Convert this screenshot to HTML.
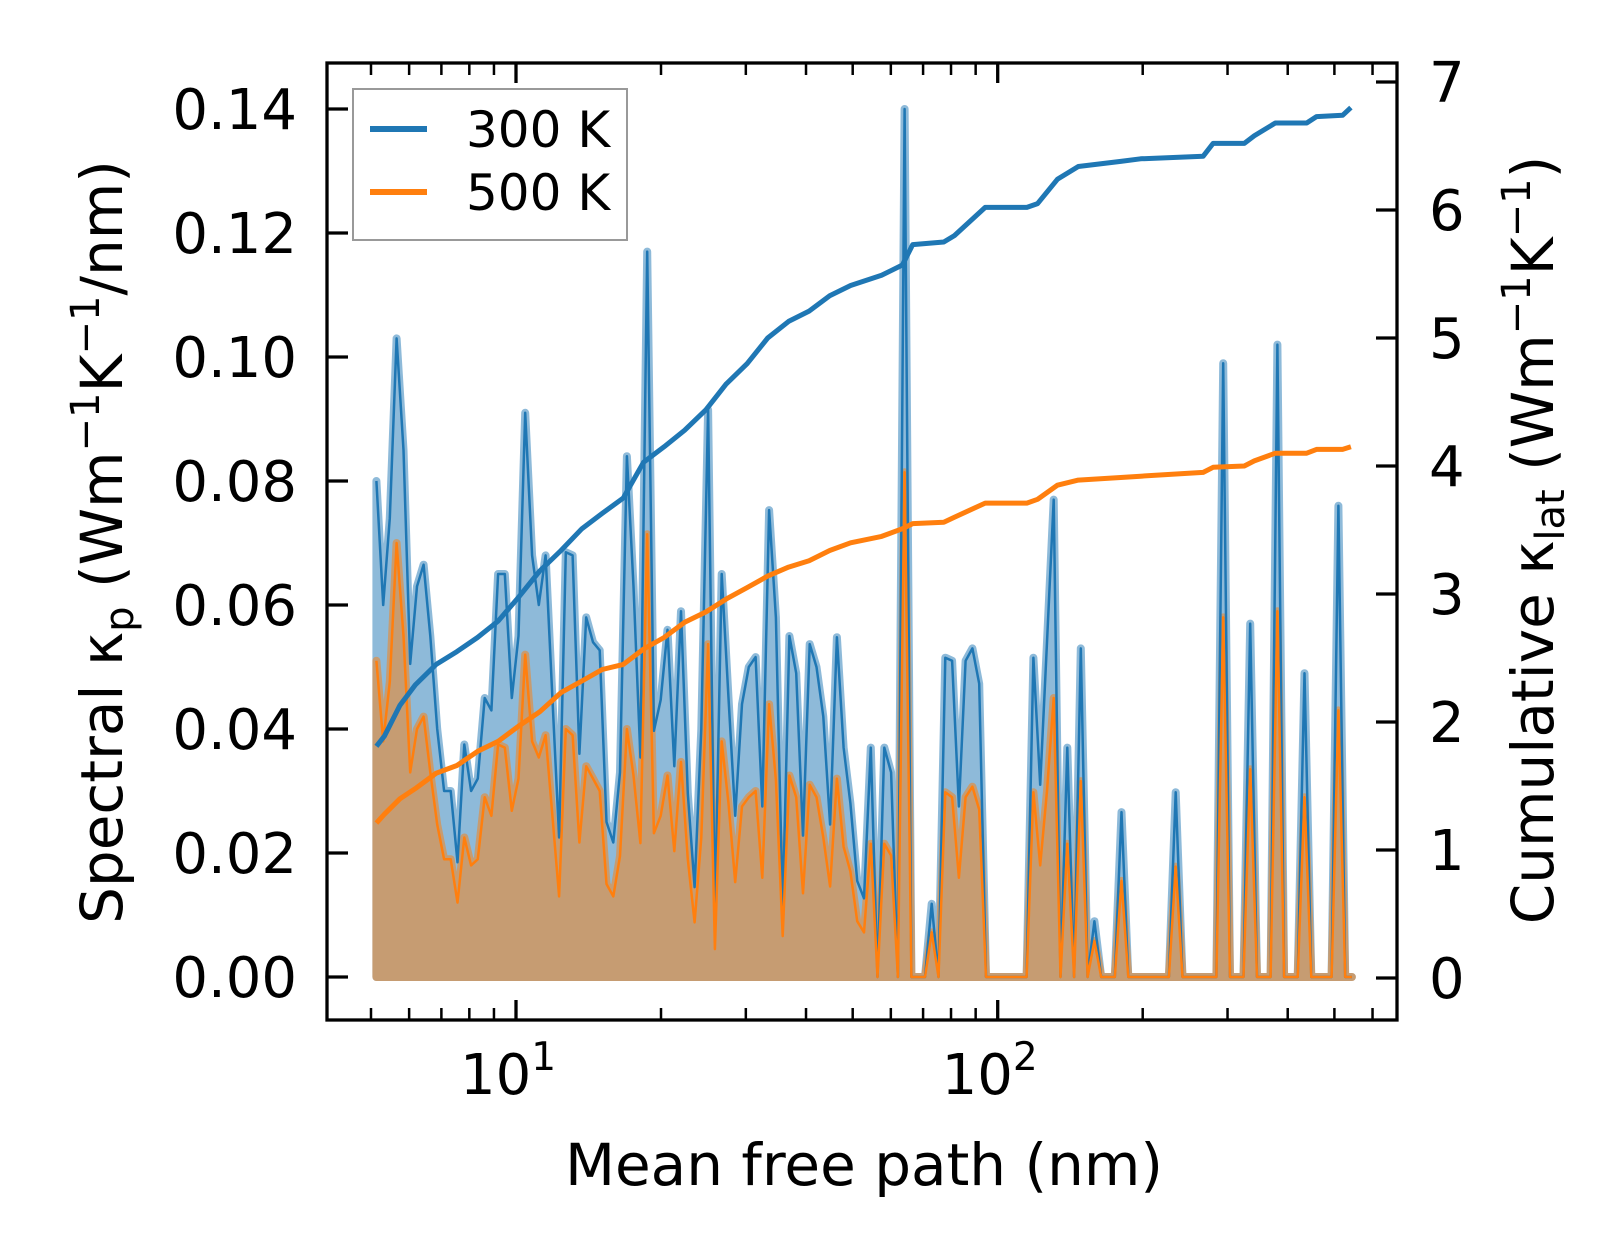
<!DOCTYPE html>
<html><head><meta charset="utf-8"><style>
html,body{margin:0;padding:0;background:#fff;}
svg{display:block;font-family:"DejaVu Sans","Liberation Sans",sans-serif;}
</style></head><body>
<svg id="chart" width="1623" height="1258" viewBox="0 0 1623 1258" xmlns="http://www.w3.org/2000/svg">
<rect width="1623" height="1258" fill="#fff"/>
<g id="plot"></g>
<g id="axes"></g>
<g>
  <rect x="353" y="89" width="274" height="151" fill="#fff" fill-opacity="0.8" stroke="#999" stroke-width="2"/>
  <line x1="370" y1="129" x2="427" y2="129" stroke="#1f77b4" stroke-width="6"/>
  <text x="466" y="147" font-size="50">300 K</text>
  <line x1="370" y1="192" x2="427" y2="192" stroke="#ff7f0e" stroke-width="6"/>
  <text x="466" y="210" font-size="50">500 K</text>
</g>
<text x="864" y="1185" font-size="58" text-anchor="middle">Mean free path (nm)</text>
<text transform="translate(122,542) rotate(-90)" font-size="58" text-anchor="middle">Spectral κ<tspan font-size="40" dy="11">p</tspan><tspan dy="-11"> (Wm</tspan><tspan font-size="40" dy="-23">−1</tspan><tspan dy="23">K</tspan><tspan font-size="40" dy="-23">−1</tspan><tspan dy="23">/nm)</tspan></text>
<text transform="translate(1553,540) rotate(-90)" font-size="58" text-anchor="middle">Cumulative κ<tspan font-size="40" dy="11">lat</tspan><tspan dy="-11"> (Wm</tspan><tspan font-size="40" dy="-23">−1</tspan><tspan dy="23">K</tspan><tspan font-size="40" dy="-23">−1</tspan><tspan dy="23">)</tspan></text>
</svg>
<script>
// ---- data ----
const mfp = [5.13,5.30,5.47,5.65,5.84,6.03,6.23,6.43,6.64,6.86,7.09,7.32,7.56,7.81,8.07,8.33,8.61,8.89,9.18,9.48,9.80,10.12,10.45,10.80,11.15,11.52,11.90,12.29,12.69,13.11,13.54,13.99,14.45,14.92,15.41,15.92,16.44,16.99,17.54,18.12,18.72,19.33,19.97,20.63,21.31,22.01,22.73,23.48,24.25,25.05,25.88,26.73,27.61,28.52,29.46,30.43,31.43,32.46,33.53,34.64,35.78,36.95,38.17,39.43,40.72,42.06,43.45,44.88,46.36,47.88,49.46,51.09,52.77,54.51,56.30,58.16,60.07,62.05,64.09,66.20,68.38,70.64,72.96,75.36,77.85,80.41,83.06,85.79,88.62,91.53,94.55,97.66,100.9,104.2,107.6,111.2,114.8,118.6,122.5,126.6,130.7,135.0,139.5,144.1,148.8,153.7,158.8,164.0,169.4,175.0,180.7,186.7,192.8,199.2,205.7,212.5,219.5,226.7,234.2,241.9,249.9,258.1,266.6,275.4,284.4,293.8,303.5,313.5,323.8,334.4,345.4,356.8,368.6,380.7,393.2,406.2,419.6,433.4,447.7,462.4,477.6,493.4,509.6,526.4,543.7];
const spec300 = [0.080,0.060,0.074,0.103,0.085,0.0505,0.063,0.0665,0.055,0.040,
0.030,0.030,0.0185,0.0375,0.030,0.032,0.045,0.043,0.065,0.065,
0.045,0.055,0.091,0.068,0.060,0.068,0.045,0.0225,0.0685,0.068,
0.036,0.058,0.054,0.0527,0.025,0.0217,0.033,0.084,0.063,0.0354,
0.117,0.0397,0.0447,0.056,0.034,0.059,0.0296,0.0145,0.040,0.0915,
0.010,0.065,0.045,0.026,0.044,0.050,0.0516,0.0275,0.0753,0.058,
0.011,0.055,0.049,0.0228,0.0537,0.050,0.042,0.0246,0.0548,0.037,
0.028,0.0155,0.0127,0.037,0,0.037,0.033,0,0.140,0,
0,0,0.0118,0,0.0515,0.051,0.0275,0.051,0.053,0.0473,
0,0,0,0,0,0,0,0.0515,0.031,0.054,
0.077,0,0.037,0,0.053,0,0.009,0,0,0,
0.0266,0,0,0,0,0,0,0,0.0298,0,
0,0,0,0,0,0.099,0,0,0,0.057,
0,0,0,0.102,0,0,0,0.049,0,0,
0,0,0.076,0,0];
const spec500 = [0.051,0.038,0.0476,0.070,0.055,0.033,0.040,0.042,0.033,0.0246,
0.019,0.019,0.012,0.0225,0.018,0.019,0.029,0.026,0.0375,0.037,
0.0268,0.032,0.052,0.038,0.0354,0.039,0.026,0.013,0.040,0.039,
0.0217,0.034,0.032,0.030,0.015,0.013,0.0195,0.040,0.0325,0.0216,
0.0714,0.0232,0.026,0.0325,0.0203,0.0347,0.019,0.0088,0.0225,0.0537,
0.0045,0.038,0.028,0.0153,0.0275,0.029,0.030,0.016,0.044,0.0318,
0.0066,0.0325,0.029,0.0135,0.031,0.029,0.0225,0.0146,0.032,0.021,
0.017,0.009,0.0072,0.0215,0,0.0215,0.0196,0,0.0814,0,
0,0,0.0072,0,0.0298,0.029,0.016,0.029,0.0307,0.027,
0,0,0,0,0,0,0,0.0298,0.018,0.030,
0.045,0,0.0215,0,0.0316,0,0.0058,0,0,0,
0.0155,0,0,0,0,0,0,0,0.0178,0,
0,0,0,0,0,0.058,0,0,0,0.0335,
0,0,0,0.059,0,0,0,0.029,0,0,
0,0,0.043,0,0];
const cumMfp = [5.13,5.33,5.74,6.18,6.83,7.54,8.32,9.19,10.15,11.2,12.4,13.7,15.1,16.7,18.4,20.3,22.4,24.8,27.3,30.2,33.3,36.8,40.6,44.8,49.5,57.4,63.4,66.6,77.3,81.3,94.2,115,121,133,147,180,198,267,280,325,341,377,438,459,520,541];
const cum300 = [1.81,1.89,2.13,2.29,2.45,2.55,2.66,2.79,2.98,3.18,3.34,3.51,3.63,3.75,4.03,4.15,4.28,4.44,4.64,4.80,5.00,5.13,5.21,5.33,5.41,5.49,5.57,5.73,5.75,5.80,6.02,6.02,6.05,6.24,6.34,6.38,6.40,6.42,6.52,6.52,6.58,6.68,6.68,6.73,6.74,6.80];
const cum500 = [1.21,1.28,1.40,1.48,1.60,1.66,1.77,1.85,1.97,2.08,2.23,2.32,2.41,2.45,2.57,2.66,2.78,2.86,2.96,3.05,3.14,3.21,3.26,3.34,3.40,3.45,3.51,3.55,3.56,3.60,3.71,3.71,3.74,3.85,3.89,3.91,3.92,3.95,3.99,4.00,4.04,4.10,4.10,4.13,4.13,4.15];
const leftTicks = [0,0.02,0.04,0.06,0.08,0.10,0.12,0.14];
const leftTickLabels = ["0.00","0.02","0.04","0.06","0.08","0.10","0.12","0.14"];
const rightTicks = [0,1,2,3,4,5,6,7];
const xMajor = [10,100];
const xMajorExp = ["1","2"];
const xMinor = [5,6,7,8,9,20,30,40,50,60,70,80,90,200,300,400,500,600];

// ---- scales ----
const L=327,R=1397,T=63,B=1020;
function xs(v){return 516+(Math.log10(v)-1)*481.7;}
function yl(v){return 977-v*6200;}
function yr(v){return 978-v*128;}
const NS="http://www.w3.org/2000/svg";
function mk(parent,tag,attrs){const e=document.createElementNS(NS,tag);for(const k in attrs)e.setAttribute(k,attrs[k]);parent.appendChild(e);return e;}
const plot=document.getElementById('plot');
const axes=document.getElementById('axes');

function linePts(xsArr,ysArr,fy){return xsArr.map((x,i)=>xs(x).toFixed(1)+','+fy(ysArr[i]).toFixed(1)).join(' ');}
function areaPts(xsArr,ysArr){const top=linePts(xsArr,ysArr,yl);return top+' '+xs(xsArr[xsArr.length-1]).toFixed(1)+','+yl(0)+' '+xs(xsArr[0]).toFixed(1)+','+yl(0);}

const g1=mk(plot,'g',{opacity:'0.5'});


const a1=mk(g1,'polygon',{points:areaPts(mfp,spec300),fill:'#1f77b4',stroke:'#1f77b4','stroke-width':'8','stroke-linejoin':'round'});


const g2=mk(plot,'g',{opacity:'0.5'});


const a2=mk(g2,'polygon',{points:areaPts(mfp,spec500),fill:'#ff7f0e',stroke:'#ff7f0e','stroke-width':'8','stroke-linejoin':'round'});


const l1=mk(plot,'polyline',{points:linePts(mfp,spec300,yl),fill:'none',stroke:'#1f77b4','stroke-width':'2.5','stroke-linejoin':'round'});


const l2=mk(plot,'polyline',{points:linePts(mfp,spec500,yl),fill:'none',stroke:'#ff7f0e','stroke-width':'2.5','stroke-linejoin':'round'});


const c1=mk(plot,'polyline',{points:linePts(cumMfp,cum300,yr),fill:'none',stroke:'#1f77b4','stroke-width':'5','stroke-linejoin':'round'});


const c2=mk(plot,'polyline',{points:linePts(cumMfp,cum500,yr),fill:'none',stroke:'#ff7f0e','stroke-width':'5','stroke-linejoin':'round'});



// ---- axes ----
const frame=mk(axes,'rect',{x:L,y:T,width:R-L,height:B-T,fill:'none',stroke:'#000','stroke-width':'3.3'});


leftTicks.forEach((v,i)=>{
  const t=mk(axes,'line',{x1:L,x2:L+21,y1:yl(v),y2:yl(v),stroke:'#000','stroke-width':'3.3'});
  
  
  const tx=mk(axes,'text',{x:297,y:yl(v)+20,'font-size':'56','text-anchor':'end'});
  tx.textContent=leftTickLabels[i];
  
  
});
rightTicks.forEach(v=>{
  const t=mk(axes,'line',{x1:R-21,x2:R,y1:yr(v),y2:yr(v),stroke:'#000','stroke-width':'3.3'});
  
  
  const tx=mk(axes,'text',{x:1429,y:yr(v)+20,'font-size':'56'});
  tx.textContent=String(v);
  
  
});
xMajor.forEach((v,i)=>{
  [[B,B-20],[T,T+20]].forEach(p=>{
    const t=mk(axes,'line',{x1:xs(v),x2:xs(v),y1:p[0],y2:p[1],stroke:'#000','stroke-width':'3.3'});
    
    
  });
  const tx=mk(axes,'text',{x:xs(v)-8,y:1094,'font-size':'56','text-anchor':'middle'});
  tx.innerHTML='10<tspan font-size="39" dy="-24">'+xMajorExp[i]+'</tspan>';
  
  
});
xMinor.forEach(v=>{
  [[B,B-12],[T,T+12]].forEach(p=>{
    const t=mk(axes,'line',{x1:xs(v),x2:xs(v),y1:p[0],y2:p[1],stroke:'#000','stroke-width':'2.5'});
    
    
  });
});
</script>
</body></html>
